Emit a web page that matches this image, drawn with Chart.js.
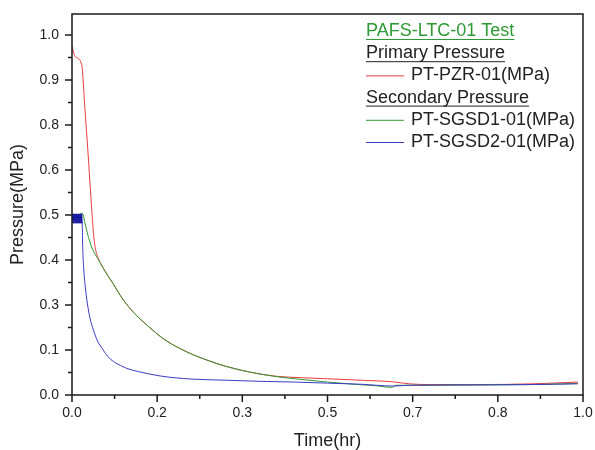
<!DOCTYPE html>
<html>
<head>
<meta charset="utf-8">
<script src="https://cdn.jsdelivr.net/npm/chart.js@4.4.1/dist/chart.umd.min.js"></script>
<style>
  html, body { margin: 0; padding: 0; background: #fff; }
  #wrap { width: 595px; height: 450px; }
</style>
</head>
<body>
<div id="wrap"><canvas id="pressureChart" width="595" height="450"></canvas></div>
<script>
// Primary pressure PT-PZR-01
const pzrTime   = [0, 0.006, 0.019, 0.025, 0.031, 0.037, 0.042, 0.046, 0.050, 0.060, 0.080, 0.100, 0.120, 0.150, 0.180, 0.210, 0.240, 0.270, 0.300, 0.350, 0.400, 0.450, 0.500, 0.550, 0.600, 0.625, 0.660, 0.700, 0.800, 0.900, 0.990];
const pzrValues = [0.968, 0.940, 0.917, 0.800, 0.680, 0.550, 0.450, 0.405, 0.385, 0.355, 0.310, 0.265, 0.230, 0.190, 0.155, 0.130, 0.110, 0.094, 0.080, 0.063, 0.052, 0.048, 0.045, 0.042, 0.039, 0.037, 0.031, 0.029, 0.029, 0.031, 0.036];

// Secondary pressure PT-SGSD1-01
const sgsd1Time   = [0, 0.010, 0.019, 0.022, 0.025, 0.030, 0.035, 0.040, 0.050, 0.060, 0.080, 0.100, 0.120, 0.150, 0.180, 0.210, 0.240, 0.270, 0.300, 0.350, 0.400, 0.450, 0.500, 0.550, 0.600, 0.625, 0.635, 0.700, 0.800, 0.900, 0.990];
const sgsd1Values = [0.490, 0.495, 0.505, 0.500, 0.480, 0.450, 0.425, 0.405, 0.380, 0.355, 0.310, 0.265, 0.230, 0.190, 0.155, 0.130, 0.110, 0.094, 0.080, 0.063, 0.051, 0.043, 0.036, 0.030, 0.025, 0.021, 0.027, 0.027, 0.028, 0.029, 0.032];

// Secondary pressure PT-SGSD2-01 (fast oscillation at the start shows as a block)
const sgsd2Time   = [0, 0.001, 0.002, 0.003, 0.004, 0.005, 0.006, 0.007, 0.008, 0.009, 0.010, 0.011, 0.012, 0.013, 0.014, 0.015, 0.016, 0.017, 0.018, 0.019, 0.020,
                     0.021, 0.023, 0.026, 0.030, 0.035, 0.042, 0.050, 0.061, 0.070, 0.081, 0.095, 0.107, 0.130, 0.172, 0.200, 0.237, 0.303, 0.368, 0.433, 0.500, 0.564, 0.628, 0.660, 0.800, 0.900, 0.990];
const sgsd2Values = [0.477, 0.503, 0.477, 0.503, 0.477, 0.503, 0.477, 0.503, 0.477, 0.503, 0.477, 0.503, 0.477, 0.503, 0.477, 0.503, 0.477, 0.503, 0.477, 0.503, 0.475,
                     0.410, 0.350, 0.300, 0.255, 0.215, 0.180, 0.150, 0.125, 0.107, 0.093, 0.082, 0.074, 0.065, 0.053, 0.048, 0.044, 0.041, 0.038, 0.036, 0.033, 0.030, 0.025, 0.027, 0.028, 0.029, 0.031];

const seriesNames = ['PT-PZR-01(MPa)', 'PT-SGSD1-01(MPa)', 'PT-SGSD2-01(MPa)'];
const seriesColors = ['#ec3b3f', '#2f9a35', '#3b3bc4'];

// Axis ticks (labels as printed on the original, one decimal)
const xTicks = [0, 1/6, 2/6, 3/6, 4/6, 5/6, 1];
const xTickLabels = ['0.0', '0.2', '0.3', '0.5', '0.7', '0.8', '1.0'];
const yTicks = [0, 0.125, 0.25, 0.375, 0.5, 0.625, 0.75, 0.875, 1.0];
const yTickLabels = ['0.0', '0.1', '0.3', '0.4', '0.5', '0.6', '0.8', '0.9', '1.0'];

const legendTitle = 'PAFS-LTC-01 Test';
const legendGroups = ['Primary Pressure', 'Secondary Pressure'];

const FONT = "'Liberation Sans', Arial, sans-serif";

function toPoints(t, v) {
    return t.map((x, i) => ({ x: x, y: v[i] }));
}

function midpoints(arr) {
    const out = [];
    for (let i = 0; i < arr.length - 1; i++) out.push((arr[i] + arr[i + 1]) / 2);
    return out;
}

// Box frame plus outward major/minor tick marks
const frameAndTicks = {
    id: 'frameAndTicks',
    afterDraw(chart) {
        const { ctx, chartArea: a, scales: { x, y } } = chart;
        ctx.save();
        ctx.strokeStyle = '#1a1a1a';
        ctx.lineWidth = 1.5;
        ctx.strokeRect(a.left, a.top, a.right - a.left, a.bottom - a.top);

        ctx.beginPath();
        xTicks.forEach(v => {
            const px = x.getPixelForValue(v);
            ctx.moveTo(px, a.bottom); ctx.lineTo(px, a.bottom + 7);
        });
        midpoints(xTicks).forEach(v => {
            const px = x.getPixelForValue(v);
            ctx.moveTo(px, a.bottom); ctx.lineTo(px, a.bottom + 4);
        });
        yTicks.forEach(v => {
            const py = y.getPixelForValue(v);
            ctx.moveTo(a.left, py); ctx.lineTo(a.left - 7, py);
        });
        midpoints(yTicks).forEach(v => {
            const py = y.getPixelForValue(v);
            ctx.moveTo(a.left, py); ctx.lineTo(a.left - 4, py);
        });
        ctx.stroke();
        ctx.restore();
    }
};

// Origin-style legend with underlined headers
const groupLegend = {
    id: 'groupLegend',
    afterDraw(chart) {
        const ctx = chart.ctx;
        const left = 366, lineEnd = 404, textX = 411;
        const rows = [
            { text: legendTitle, header: true, color: '#2f9a35' },
            { text: legendGroups[0], header: true, color: '#222' },
            { text: seriesNames[0], ds: 0 },
            { text: legendGroups[1], header: true, color: '#222' },
            { text: seriesNames[1], ds: 1 },
            { text: seriesNames[2], ds: 2 }
        ];
        ctx.save();
        ctx.font = '18px ' + FONT;
        ctx.textBaseline = 'middle';
        let yPos = 31;
        rows.forEach(r => {
            if (r.header) {
                ctx.fillStyle = r.color;
                ctx.fillText(r.text, left, yPos);
                const w = ctx.measureText(r.text).width;
                ctx.strokeStyle = r.color;
                ctx.lineWidth = 1;
                ctx.beginPath();
                ctx.moveTo(left, yPos + 8.5);
                ctx.lineTo(left + w, yPos + 8.5);
                ctx.stroke();
            } else {
                ctx.strokeStyle = seriesColors[r.ds];
                ctx.lineWidth = 1;
                ctx.beginPath();
                ctx.moveTo(left, yPos + 0.5);
                ctx.lineTo(lineEnd, yPos + 0.5);
                ctx.stroke();
                ctx.fillStyle = '#222';
                ctx.fillText(r.text, textX, yPos);
            }
            yPos += 22.2;
        });
        ctx.restore();
    }
};

document.addEventListener('DOMContentLoaded', function() {
    const canvas = document.getElementById('pressureChart');

    new Chart(canvas, {
        type: 'line',
        data: {
            datasets: [
                {
                    label: seriesNames[0],
                    data: toPoints(pzrTime, pzrValues),
                    borderColor: seriesColors[0],
                    borderWidth: 1,
                    order: 3
                },
                {
                    label: seriesNames[1],
                    data: toPoints(sgsd1Time, sgsd1Values),
                    borderColor: seriesColors[1],
                    borderWidth: 1,
                    order: 2
                },
                {
                    label: seriesNames[2],
                    data: toPoints(sgsd2Time, sgsd2Values),
                    borderColor: seriesColors[2],
                    borderWidth: 1,
                    order: 1,
                    segment: {
                        borderColor: c => c.p1.parsed.x <= 0.0201 ? '#0b0b9c' : undefined
                    }
                }
            ]
        },
        options: {
            responsive: false,
            animation: false,
            events: [],
            elements: {
                point: { radius: 0 },
                line: { tension: 0, cubicInterpolationMode: 'monotone' }
            },
            layout: { padding: { left: 0, right: 12, top: 14, bottom: 0 } },
            plugins: {
                legend: { display: false },
                tooltip: { enabled: false }
            },
            scales: {
                x: {
                    type: 'linear',
                    min: 0,
                    max: 1,
                    grid: { display: false, drawTicks: false },
                    border: { display: false },
                    afterBuildTicks: s => { s.ticks = xTicks.map(v => ({ value: v })); },
                    afterFit: s => {
                        s.height = 55;
                        s.paddingLeft = 0;
                        s.paddingRight = 0;
                    },
                    ticks: {
                        padding: 10,
                        maxRotation: 0,
                        autoSkip: false,
                        color: '#222',
                        font: { family: FONT, size: 14 },
                        callback: (v, i) => xTickLabels[i]
                    },
                    title: {
                        display: true,
                        text: 'Time(hr)',
                        color: '#222',
                        padding: 0,
                        font: { family: FONT, size: 18, lineHeight: 1 }
                    }
                },
                y: {
                    type: 'linear',
                    min: 0,
                    max: 1.058,
                    grid: { display: false, drawTicks: false },
                    border: { display: false },
                    afterBuildTicks: s => { s.ticks = yTicks.map(v => ({ value: v })); },
                    afterFit: s => {
                        s.width = 72;
                        s.paddingTop = 0;
                        s.paddingBottom = 0;
                    },
                    ticks: {
                        padding: 13,
                        autoSkip: false,
                        color: '#222',
                        font: { family: FONT, size: 14 },
                        callback: (v, i) => yTickLabels[i]
                    },
                    title: {
                        display: true,
                        text: 'Pressure(MPa)',
                        color: '#222',
                        padding: { top: 9, bottom: 0 },
                        font: { family: FONT, size: 18, lineHeight: 1 }
                    }
                }
            }
        },
        plugins: [frameAndTicks, groupLegend]
    });
});
</script>
</body>
</html>
